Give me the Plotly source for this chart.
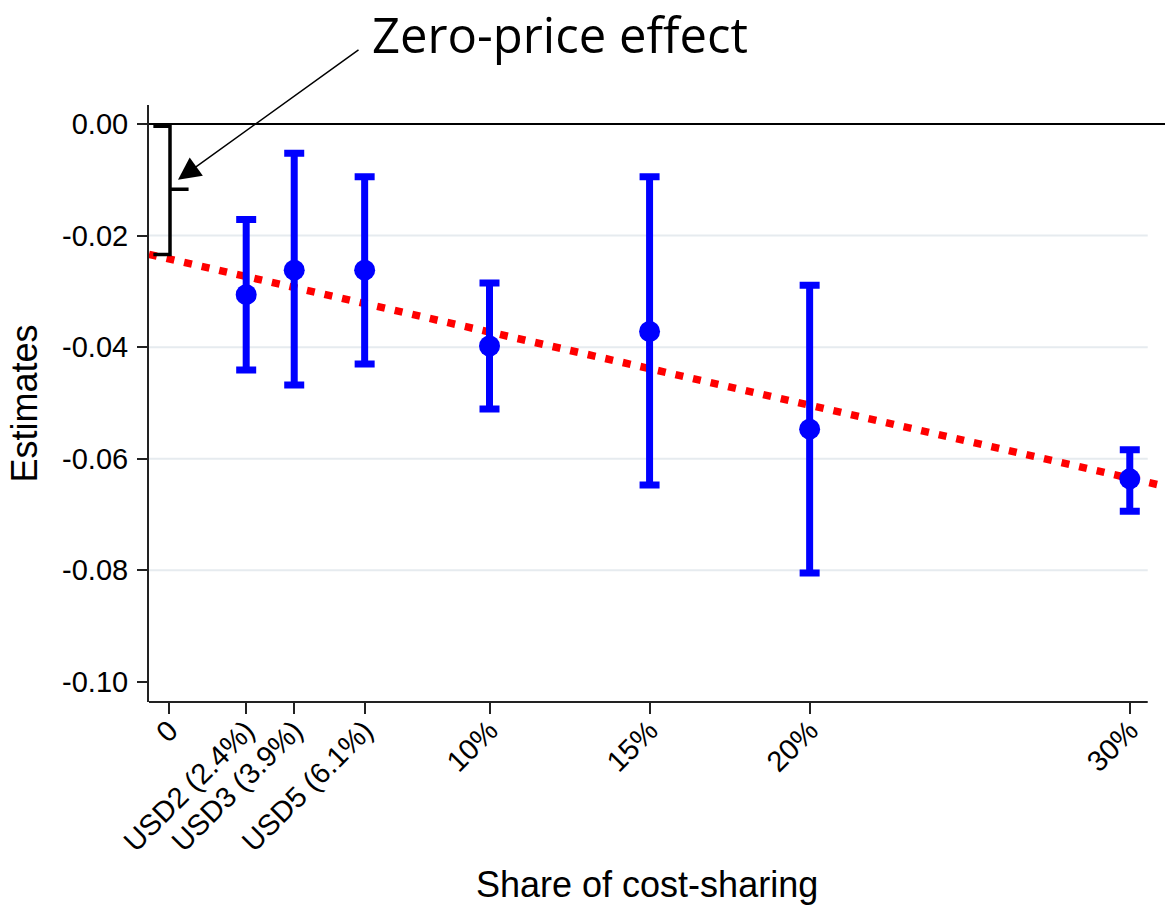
import plotly.graph_objects as go

# ---- data ----
share = [2.4, 3.9, 6.1, 10, 15, 20, 30]
estimate = [-0.0306, -0.0262, -0.0262, -0.0398, -0.0372, -0.0547, -0.0636]
ci_upper = [-0.0171, -0.00525, -0.00944, -0.0285, -0.00945, -0.0289, -0.0584]
ci_lower = [-0.0441, -0.0468, -0.0430, -0.0511, -0.0647, -0.0805, -0.0694]

fit_intercept = -0.0242
fit_slope = -0.00131
fit_x = [-0.636, 31.1]

x_tickvals = [0, 2.4, 3.9, 6.1, 10, 15, 20, 30]
x_ticktext = ["0", "USD2 (2.4%)", "USD3 (3.9%)", "USD5 (6.1%)", "10%", "15%", "20%", "30%"]
y_tickvals = [0, -0.02, -0.04, -0.06, -0.08, -0.10]
y_ticktext = ["0.00", "-0.02", "-0.04", "-0.06", "-0.08", "-0.10"]
grid_vals = [-0.02, -0.04, -0.06, -0.08]

err_plus = [u - e for u, e in zip(ci_upper, estimate)]
err_minus = [e - l for e, l in zip(estimate, ci_lower)]
fit_y = [fit_intercept + fit_slope * v for v in fit_x]

FONT = "Liberation Sans, Arial, sans-serif"

fig = go.Figure()

fig.add_trace(go.Scatter(
    x=fit_x, y=fit_y, mode="lines",
    line=dict(color="#ff0000", width=7.5, dash="8px,10px"),
    hoverinfo="skip", showlegend=False,
))

fig.add_trace(go.Scatter(
    x=share, y=estimate, mode="markers",
    marker=dict(color="#0000ff", size=21),
    error_y=dict(type="data", array=err_plus, arrayminus=err_minus,
                 color="#0000ff", thickness=7, width=10, symmetric=False),
    showlegend=False,
))

shapes = []
# light gridlines (stop short of the right edge like the original)
for g in grid_vals:
    shapes.append(dict(type="line", xref="paper", yref="y", x0=0, x1=0.983, y0=g, y1=g,
                       line=dict(color="#e6ebef", width=2), layer="below"))
# zero reference line
shapes.append(dict(type="line", xref="paper", yref="y", x0=0, x1=1, y0=0, y1=0,
                   line=dict(color="black", width=2)))
# x axis line
shapes.append(dict(type="line", xref="paper", yref="paper", x0=0, x1=0.983, y0=0, y1=0,
                   line=dict(color="#222222", width=2)))
# bracket for zero-price effect
shapes.append(dict(type="path", xref="x", yref="y",
                   path="M -0.5,-0.0004 L 0.02,-0.0004 L 0.02,-0.0234 L -0.5,-0.0234 "
                        "M 0.02,-0.0117 L 0.6,-0.0117",
                   line=dict(color="black", width=3.5)))

annotations = [
    dict(text="Zero-price effect", xref="paper", yref="paper", x=0.2175, y=1.1195,
         xanchor="left", yanchor="middle", showarrow=False,
         font=dict(family="Open Sans", size=49, color="black")),
    dict(text="", xref="x", yref="y", x=0.27, y=-0.0100, ax=182, ay=-131,
         showarrow=True, arrowhead=2, arrowsize=3, arrowwidth=1.5, arrowcolor="black"),
    dict(text="Share of cost-sharing", xref="paper", yref="paper", x=0.4897, y=-0.3065,
         xanchor="center", yanchor="middle", showarrow=False,
         font=dict(family=FONT, size=36, color="black")),
    dict(text="Estimates", xref="paper", yref="paper", x=-0.123, y=0.5, textangle=-90,
         xanchor="center", yanchor="middle", showarrow=False,
         font=dict(family=FONT, size=36, color="black")),
]

fig.update_layout(
    width=1165, height=909,
    margin=dict(l=149, r=0, t=105, b=207),
    paper_bgcolor="white", plot_bgcolor="white",
    shapes=shapes, annotations=annotations,
    xaxis=dict(range=[-0.636, 31.1], tickvals=x_tickvals, ticktext=x_ticktext,
               tickangle=-45, ticks="outside", ticklen=11, tickwidth=2, tickcolor="#222222",
               showgrid=False, showline=False, zeroline=False, ticklabelstandoff=-12,
               tickfont=dict(family=FONT, size=29, color="black")),
    yaxis=dict(range=[-0.1036, 0.0034], tickvals=y_tickvals, ticktext=y_ticktext,
               ticks="outside", ticklen=10, tickwidth=2, tickcolor="#222222",
               showgrid=False, showline=True, linecolor="#222222", linewidth=2,
               zeroline=False, ticklabelstandoff=3,
               tickfont=dict(family=FONT, size=29, color="black")),
)

fig.write_html("out.html", config={"displayModeBar": False})

# remove the browser's default page margin so the figure sits at the window origin
with open("out.html", encoding="utf-8") as f:
    html = f.read()
html = html.replace("<head>", "<head><style>html,body{margin:0;padding:0;overflow:hidden;}</style>", 1)
with open("out.html", "w", encoding="utf-8") as f:
    f.write(html)
